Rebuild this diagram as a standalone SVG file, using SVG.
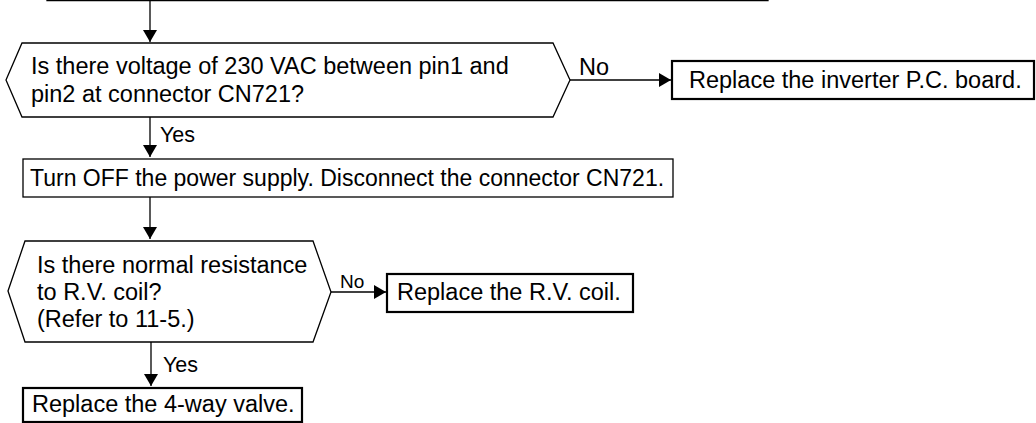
<svg xmlns="http://www.w3.org/2000/svg" width="1036" height="423" viewBox="0 0 1036 423">
<style>
text{font-family:"Liberation Sans",Arial,sans-serif;fill:#000;font-size:23.5px}
.shape{fill:#fff;stroke:#000;stroke-width:1.3}
.thick{fill:#fff;stroke:#000;stroke-width:2.2}
.line{fill:none;stroke:#000;stroke-width:1.3}
.lbl{font-size:21.5px}
.lbls{font-size:19px}
.cond{font-size:23px}
</style>
<defs>
<marker id="ah" markerUnits="userSpaceOnUse" markerWidth="12" markerHeight="14" refX="12" refY="7" orient="auto">
<path d="M0,0 L12,7 L0,14 z" fill="#000"/>
</marker>
</defs>
<rect width="1036" height="423" fill="#fff"/>
<g id="top-box"><rect class="shape" x="47" y="-50" width="721" height="50.6"/></g>
<g id="connectors">
<line class="line" x1="150" y1="0" x2="150" y2="42" marker-end="url(#ah)"/>
<line class="line" x1="570" y1="80" x2="671" y2="80" marker-end="url(#ah)"/>
<line class="line" x1="150" y1="117" x2="150" y2="157" marker-end="url(#ah)"/>
<line class="line" x1="150" y1="197" x2="150" y2="239" marker-end="url(#ah)"/>
<line class="line" x1="331" y1="292" x2="386" y2="292" marker-end="url(#ah)"/>
<line class="line" x1="151" y1="342" x2="151" y2="386" marker-end="url(#ah)"/>
<text x="579" y="75">No</text>
<text class="lbl" x="160" y="142">Yes</text>
<text class="lbls" x="340" y="288">No</text>
<text class="lbl" x="163" y="372">Yes</text>
</g>
<g id="decision1">
<polygon class="shape" points="6,80 22,43 553,43 570,80 553,117 22,117"/>
<text x="31" y="74">Is there voltage of 230 VAC between pin1 and</text>
<text x="31" y="102">pin2 at connector CN721?</text>
</g>
<g id="replace-board">
<rect class="thick" x="672" y="61" width="362" height="38"/>
<text x="689" y="88">Replace the inverter P.C. board.</text>
</g>
<g id="turn-off">
<rect class="shape" x="23" y="159" width="650" height="38"/>
<text class="cond" x="30" y="186">Turn OFF the power supply. Disconnect the connector CN721.</text>
</g>
<g id="decision2">
<polygon class="shape" points="8,291 25,241 313,241 331,292 313,342 25,342"/>
<text x="37" y="273">Is there normal resistance</text>
<text x="37" y="300">to R.V. coil?</text>
<text x="37" y="327">(Refer to 11-5.)</text>
</g>
<g id="replace-coil">
<rect class="thick" x="387" y="274" width="246" height="38"/>
<text x="397" y="300">Replace the R.V. coil.</text>
</g>
<g id="replace-valve">
<rect class="thick" x="23" y="388" width="279" height="34"/>
<text x="32" y="412">Replace the 4-way valve.</text>
</g>
</svg>
